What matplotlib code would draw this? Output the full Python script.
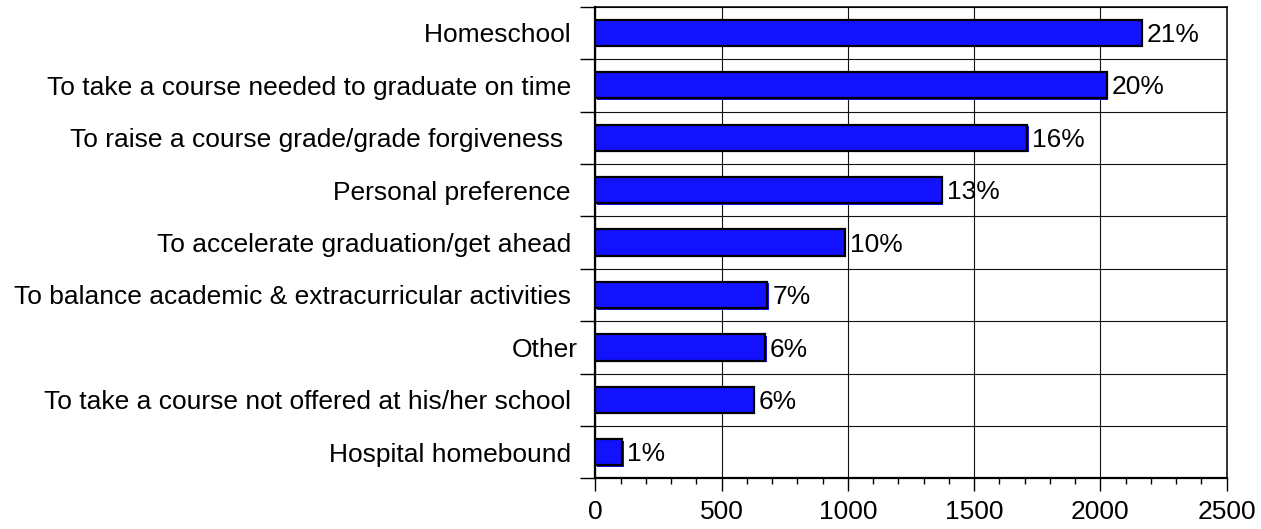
#!/usr/bin/env python3
"""Reasons for taking online courses: horizontal bar chart with percentage labels."""

import matplotlib
matplotlib.use("Agg")
import matplotlib.pyplot as plt
import matplotlib.transforms as mtransforms
import numpy as np
from matplotlib.ticker import FixedLocator, MultipleLocator

# top-to-bottom order, as in the chart (trailing spaces are part of the labels)
reasons = [
    "Homeschool ",
    "To take a course needed to graduate on time ",
    "To raise a course grade/grade forgiveness  ",
    "Personal preference ",
    "To accelerate graduation/get ahead ",
    "To balance academic & extracurricular activities ",
    "Other",
    "To take a course not offered at his/her school ",
    "Hospital homebound ",
]
counts = [2164, 2026, 1710, 1372, 988, 681, 672, 627, 107]
pct_labels = ["21%", "20%", "16%", "13%", "10%", "7%", "6%", "6%", "1%"]
x_ticks = [0, 500, 1000, 1500, 2000, 2500]

BLUE = "#1212ff"
FONT = 19

plt.rcParams["font.family"] = ["Liberation Sans", "DejaVu Sans"]

fig = plt.figure(figsize=(12.61, 5.29), dpi=100)
ax = fig.add_axes([0.4722, 0.0955, 0.5005, 0.8919])

pos = np.arange(len(reasons))

# blue drop edge peeking out right/below the outlined bar
shadow = mtransforms.offset_copy(ax.transData, fig=fig, x=1.5, y=-1.5, units="dots")
ax.barh(pos, counts, height=0.5, color=BLUE, linewidth=0, transform=shadow, zorder=2)
ax.barh(pos, counts, height=0.5, color=BLUE, edgecolor="black", linewidth=1.6, zorder=3)

for y, v, lab in zip(pos, counts, pct_labels):
    ax.annotate(lab, (v, y), xytext=(3.5, -1.5), textcoords="offset points",
                ha="left", va="center", fontsize=FONT, zorder=4)

ax.set_xlim(x_ticks[0], x_ticks[-1])
ax.set_ylim(len(reasons) - 0.5, -0.5)

# x axis: majors every 500, minors every 100
ax.set_xticks(x_ticks)
ax.xaxis.set_minor_locator(MultipleLocator(100))
ax.tick_params(axis="x", which="major", direction="out", length=9.5, width=1.0,
               pad=6, labelsize=FONT)
ax.tick_params(axis="x", which="minor", direction="out", length=4.2, width=1.0)

# y axis: tick marks on category boundaries, labels on the centres
ax.yaxis.set_major_locator(FixedLocator(np.arange(len(reasons) + 1) - 0.5))
ax.yaxis.set_major_formatter(plt.NullFormatter())
ax.yaxis.set_minor_locator(FixedLocator(pos))
ax.set_yticklabels(reasons, minor=True)
ax.tick_params(axis="y", which="major", direction="out", length=10.5, width=1.0)
ax.tick_params(axis="y", which="minor", length=0, pad=12.4, labelsize=FONT)

ax.grid(True, axis="x", which="major", color="#111111", linewidth=0.8, zorder=1)
ax.grid(True, axis="y", which="major", color="#111111", linewidth=0.8, zorder=1)
ax.set_axisbelow(True)

for side in ("left", "bottom"):
    ax.spines[side].set_linewidth(1.6)
for side in ("top", "right"):
    ax.spines[side].set_linewidth(1.1)

fig.savefig("out.png", dpi=100)
